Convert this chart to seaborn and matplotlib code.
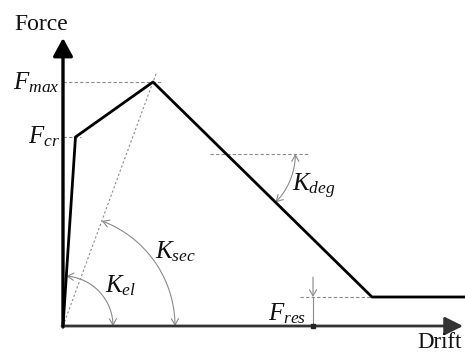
import numpy as np
import pandas as pd
import matplotlib
matplotlib.use("Agg")
import matplotlib.pyplot as plt
import seaborn as sns
from matplotlib.patches import FancyArrowPatch
from matplotlib.path import Path

sns.set_theme(style="white")
plt.rcParams["font.family"] = ["Liberation Serif", "DejaVu Serif"]
plt.rcParams["mathtext.fontset"] = "custom"
plt.rcParams["mathtext.rm"] = "Liberation Serif"
plt.rcParams["mathtext.it"] = "Liberation Serif:italic"

# Backbone curve: origin, cracking, peak, start of residual plateau, end
drift = [0, 12.5, 90, 309, 402]
force = [0, 189, 244, 29, 29]

# Characteristic force levels
f_cr, f_max, f_res = 189, 244, 29
axis_names = ["Force", "Drift"]

GRAY = "#8a8a8a"

fig = plt.figure(figsize=(4.65, 3.56), dpi=100)
ax = fig.add_axes([0, 0, 1, 1])
ax.set_xlim(-63, 402)
ax.set_ylim(-30, 326)
ax.axis("off")


def arrow(p0, p1, style, lw, color, z=3):
    a = FancyArrowPatch(p0, p1, arrowstyle=style, mutation_scale=1, lw=lw,
                        color=color, shrinkA=0, shrinkB=0, zorder=z)
    ax.add_patch(a)


def arc_arrow(center, radius, a0, a1, color=GRAY):
    t = np.radians(np.linspace(a0, a1, 60))
    pts = np.column_stack([center[0] + radius * np.cos(t),
                           center[1] + radius * np.sin(t)])
    a = FancyArrowPatch(path=Path(pts), arrowstyle="<->,head_length=4.5,head_width=2.6",
                        mutation_scale=1, lw=0.8, color=color, zorder=2)
    ax.add_patch(a)


dash = dict(color=GRAY, lw=0.8, ls=(0, (3, 2)), zorder=1)

# Axes with arrowheads
arrow((0, -1), (0, 288), "-|>,head_length=11,head_width=6", 2.4, "black")
arrow((-1, 0), (400, 0), "-|>,head_length=11,head_width=5.5", 2.0, "#333333")
ax.text(-22, 302, axis_names[0], fontsize=17, ha="center", va="center", color="#111")
ax.text(399, -27, axis_names[1], fontsize=16.5, ha="right", va="bottom", color="#111")

# Backbone
df = pd.DataFrame({"drift": drift, "force": force})
sns.lineplot(data=df, x="drift", y="force", ax=ax, color="black", lw=2,
             estimator=None, sort=False, zorder=4)

# Reference levels
ax.plot([0, drift[2] + 9], [f_max, f_max], **dash)
ax.plot([0, drift[1] + 5], [f_cr, f_cr], **dash)
ax.plot([drift[3] - 72, drift[3]], [f_res, f_res], **dash)

# Secant stiffness line through the peak
s = 1.035
ax.plot([0, drift[2] * s], [0, force[2] * s], color=GRAY, lw=0.8, ls=(0, (2, 2)), zorder=1)

# Stiffness arcs
ang_el = np.degrees(np.arctan2(force[1], drift[1]))
ang_sec = np.degrees(np.arctan2(force[2], drift[2]))
arc_arrow((0, 0), 50, 0, ang_el)
arc_arrow((0, 0), 112, 0, ang_sec)

# Degrading stiffness
y_deg = 172
x_deg = drift[2] + (force[2] - y_deg) * (drift[3] - drift[2]) / (force[2] - force[3])
ang_deg = np.degrees(np.arctan2(force[3] - force[2], drift[3] - drift[2]))
ax.plot([x_deg - 16, x_deg + 82], [y_deg, y_deg], **dash)
arc_arrow((x_deg, y_deg), 69, 0, ang_deg)

# Residual force dimension
arrow((250, 49), (250, f_res), "->,head_length=4.5,head_width=2.6", 0.8, GRAY)
ax.plot([250, 250], [f_res, 0], color=GRAY, lw=0.8, zorder=2)
ax.plot([250], [0], marker="s", ms=2.5, color="#222", zorder=5)

# Labels
lab = dict(fontsize=18, color="#111")
ax.text(-4, 243, "$F_{max}$", ha="right", va="center", **lab)
ax.text(-3, 189, "$F_{cr}$", ha="right", va="center", **lab)
ax.text(243, 12, "$F_{res}$", ha="right", va="center", **lab)
ax.text(42, 40, "$K_{el}$", ha="left", va="center", **lab)
ax.text(92, 74, "$K_{sec}$", ha="left", va="center", **lab)
ax.text(229, 140, "$K_{deg}$", ha="left", va="center", **lab)

fig.savefig("out.png", dpi=100)
